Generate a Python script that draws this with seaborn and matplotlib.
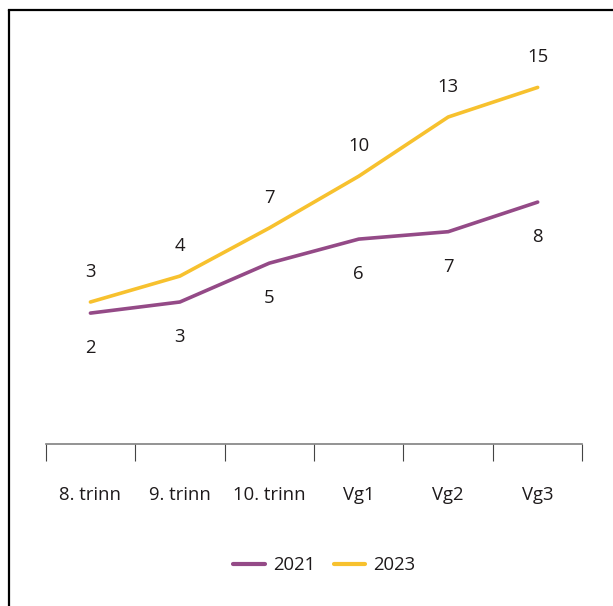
import matplotlib
matplotlib.use("Agg")
import matplotlib.pyplot as plt
from matplotlib.lines import Line2D
import numpy as np
import pandas as pd
import seaborn as sns

# Data
categories = ["8. trinn", "9. trinn", "10. trinn", "Vg1", "Vg2", "Vg3"]
years = ["2021", "2023"]
values_2021 = [2.4, 3.0, 5.1, 6.4, 6.8, 8.4]
values_2023 = [3.0, 4.4, 7.0, 9.8, 13.0, 14.6]

colors = {"2021": "#944a87", "2023": "#f7c12e"}
text_color = "#1e1a1b"

df = pd.DataFrame({
    "trinn": categories * 2,
    "pos": list(range(len(categories))) * 2,
    "år": ["2021"] * len(categories) + ["2023"] * len(categories),
    "andel": values_2021 + values_2023,
})

sns.set_theme(style="white")
plt.rcParams["font.family"] = ["Open Sans", "DejaVu Sans"]

W, H = 613, 606
fig = plt.figure(figsize=(W / 100, H / 100), dpi=100)

# axes placed in pixel terms
ax_left, ax_right = 45.7, 582.4
ax_top, ax_bottom = 30, 444
ax = fig.add_axes([ax_left / W, 1 - ax_bottom / H,
                   (ax_right - ax_left) / W, (ax_bottom - ax_top) / H])

sns.lineplot(data=df, x="pos", y="andel", hue="år", palette=colors,
             linewidth=2.6, ax=ax, legend=False, sort=False)
for line in ax.lines:
    line.set_solid_capstyle("round")

# vertical scale: value 0 sits at 357.5 px, 18.5 px per unit
zero_px, px_per_unit = 357.5, 18.5
ax.set_ylim((zero_px - ax_bottom) / px_per_unit, (zero_px - ax_top) / px_per_unit)
ax.set_xlim(-0.5, len(categories) - 0.5)

fs = 13.3

# value labels
for i, v in enumerate(values_2023):
    ax.annotate(f"{v:.0f}", (i, v), xytext=(0, 30), textcoords="offset pixels",
                ha="center", va="center", fontsize=fs, color=text_color)
for i, v in enumerate(values_2021):
    ax.annotate(f"{v:.0f}", (i, v), xytext=(0, -35), textcoords="offset pixels",
                ha="center", va="center", fontsize=fs, color=text_color)

# x axis: boundary ticks, centred labels
ax.set_xticks(np.arange(-0.5, len(categories), 1.0))
ax.set_xticklabels([])
ax.set_xticks(range(len(categories)), minor=True)
ax.set_xticklabels(categories, minor=True, fontsize=fs, color=text_color)
ax.tick_params(axis="x", which="major", direction="out", length=12.2, width=0.8,
               color="#444444", bottom=True)
ax.tick_params(axis="x", which="minor", length=0, pad=30.5)
ax.set_yticks([])
ax.set_xlabel("")
ax.set_ylabel("")
for s in ["left", "right", "top"]:
    ax.spines[s].set_visible(False)
ax.spines["bottom"].set_color("#808080")
ax.spines["bottom"].set_linewidth(1.2)
ax.grid(False)

# legend
handles = [Line2D([0], [0], color=colors[y], lw=3, solid_capstyle="round") for y in years]
fig.legend(handles, years, loc="center", bbox_to_anchor=(324.5 / W, 1 - 565 / H),
           ncol=2, frameon=False, fontsize=fs, handlelength=1.7,
           handletextpad=0.45, columnspacing=1.0, labelcolor=text_color)

# outer frame (left and top edges)
fig.add_artist(Line2D([9 / W, 9 / W], [0, 1 - 10 / H], transform=fig.transFigure,
                      color="black", lw=1.6, solid_capstyle="butt"))
fig.add_artist(Line2D([9 / W, 1], [1 - 10 / H, 1 - 10 / H], transform=fig.transFigure,
                      color="black", lw=1.6, solid_capstyle="projecting"))

fig.savefig("out.png", dpi=100, facecolor="white")
